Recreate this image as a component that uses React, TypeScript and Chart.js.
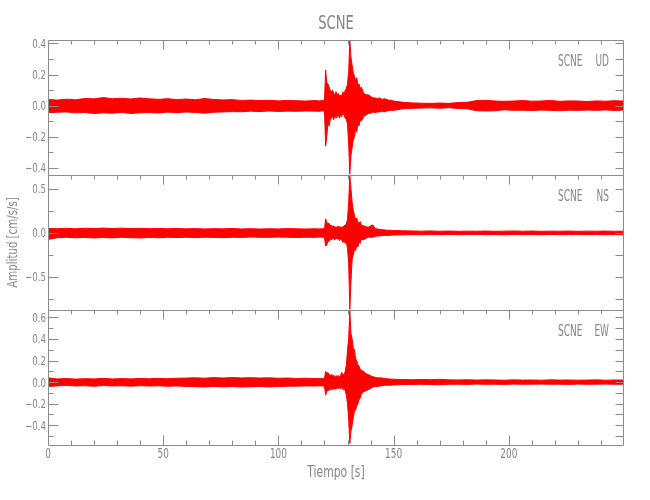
import React, { useEffect, useRef } from "react";
import { Chart, registerables } from "chart.js";

Chart.register(...registerables);

// Time samples [s] (shared by the three components)
const times = [
  0, 4, 8, 12, 16, 20, 24, 28, 32, 36, 40, 44, 48, 52, 56, 60, 64, 68, 72, 76, 80, 84, 88, 92, 96, 100, 104, 108, 112, 116,
  118, 119,
  120, 120.5, 121, 121.5, 122, 122.5, 123, 123.5, 124, 124.5, 125, 125.5, 126, 126.5, 127, 127.5, 128, 128.5, 129, 129.5, 130, 130.5, 131, 131.5, 132, 132.5, 133, 133.5, 134, 134.5, 135, 135.5, 136,
  137, 138, 139, 140, 141, 142, 143, 144, 145, 146, 147, 148, 149, 150,
  154, 158, 162, 166, 170, 174, 178, 182, 186, 190, 194, 198, 202, 206, 210, 214, 218, 222, 226, 230, 234, 238, 242, 246, 250,
];

// UD component: upper / lower envelope [cm/s/s]
const udHi = [
  0.040, 0.036, 0.042, 0.038, 0.046, 0.044, 0.052, 0.045, 0.048, 0.043, 0.050, 0.044, 0.041, 0.045, 0.039, 0.043, 0.038, 0.046, 0.040, 0.037, 0.039, 0.034, 0.036, 0.033, 0.035, 0.031, 0.034, 0.032, 0.030, 0.033,
  0.031, 0.034,
  0.032, 0.23, 0.15, 0.14, 0.12, 0.10, 0.09, 0.10, 0.08, 0.07, 0.09, 0.07, 0.08, 0.06, 0.07, 0.06, 0.09, 0.07, 0.10, 0.11, 0.14, 0.22, 0.42, 0.31, 0.26, 0.21, 0.19, 0.16, 0.18, 0.13, 0.14, 0.11, 0.12,
  0.08, 0.07, 0.07, 0.06, 0.05, 0.05, 0.045, 0.05, 0.04, 0.045, 0.04, 0.035, 0.035, 0.03,
  0.022, 0.018, 0.016, 0.015, 0.017, 0.015, 0.020, 0.022, 0.033, 0.035, 0.030, 0.028, 0.030, 0.033, 0.029, 0.030, 0.034, 0.028, 0.031, 0.030, 0.027, 0.031, 0.029, 0.032, 0.030,
];
const udLo = [
  -0.045, -0.042, -0.040, -0.046, -0.044, -0.050, -0.046, -0.048, -0.043, -0.050, -0.046, -0.044, -0.047, -0.041, -0.045, -0.040, -0.044, -0.048, -0.042, -0.040, -0.038, -0.039, -0.035, -0.038, -0.034, -0.037, -0.035, -0.036, -0.034, -0.035,
  -0.036, -0.033,
  -0.035, -0.26, -0.20, -0.11, -0.13, -0.09, -0.08, -0.07, -0.09, -0.06, -0.08, -0.07, -0.06, -0.08, -0.06, -0.07, -0.05, -0.06, -0.08, -0.09, -0.12, -0.25, -0.44, -0.32, -0.27, -0.22, -0.20, -0.15, -0.17, -0.12, -0.13, -0.09, -0.10,
  -0.07, -0.06, -0.05, -0.05, -0.04, -0.045, -0.04, -0.04, -0.035, -0.04, -0.035, -0.03, -0.03, -0.03,
  -0.020, -0.017, -0.015, -0.014, -0.016, -0.013, -0.018, -0.020, -0.032, -0.034, -0.033, -0.026, -0.030, -0.029, -0.031, -0.028, -0.030, -0.032, -0.029, -0.030, -0.028, -0.030, -0.027, -0.031, -0.028,
];

// NS component
const nsHi = [
  0.050, 0.048, 0.052, 0.047, 0.053, 0.050, 0.055, 0.049, 0.054, 0.050, 0.052, 0.048, 0.051, 0.047, 0.050, 0.046, 0.049, 0.045, 0.048, 0.046, 0.050, 0.045, 0.048, 0.044, 0.047, 0.045, 0.049, 0.046, 0.044, 0.047,
  0.045, 0.046,
  0.048, 0.16, 0.12, 0.10, 0.11, 0.08, 0.09, 0.07, 0.08, 0.06, 0.07, 0.06, 0.08, 0.06, 0.07, 0.06, 0.07, 0.08, 0.09, 0.10, 0.16, 0.35, 0.65, 0.50, 0.35, 0.26, 0.20, 0.15, 0.17, 0.12, 0.11, 0.13, 0.09,
  0.08, 0.07, 0.065, 0.08, 0.09, 0.05, 0.045, 0.04, 0.035, 0.035, 0.03, 0.03, 0.028, 0.027,
  0.024, 0.022, 0.020, 0.022, 0.019, 0.021, 0.018, 0.020, 0.019, 0.021, 0.018, 0.020, 0.022, 0.019, 0.021, 0.018, 0.020, 0.019, 0.021, 0.018, 0.020, 0.019, 0.021, 0.018, 0.020,
];
const nsLo = [
  -0.075, -0.055, -0.050, -0.056, -0.052, -0.058, -0.053, -0.057, -0.050, -0.055, -0.058, -0.052, -0.056, -0.050, -0.053, -0.050, -0.054, -0.049, -0.052, -0.055, -0.050, -0.052, -0.047, -0.050, -0.051, -0.048, -0.050, -0.053, -0.049, -0.051,
  -0.048, -0.050,
  -0.052, -0.15, -0.14, -0.09, -0.10, -0.07, -0.08, -0.06, -0.07, -0.08, -0.06, -0.07, -0.06, -0.09, -0.07, -0.08, -0.11, -0.09, -0.12, -0.10, -0.18, -0.35, -0.87, -0.55, -0.30, -0.25, -0.19, -0.20, -0.14, -0.16, -0.10, -0.12, -0.07,
  -0.08, -0.06, -0.05, -0.05, -0.05, -0.04, -0.035, -0.035, -0.03, -0.03, -0.03, -0.028, -0.027, -0.025,
  -0.022, -0.020, -0.022, -0.019, -0.020, -0.018, -0.020, -0.019, -0.017, -0.020, -0.019, -0.021, -0.018, -0.020, -0.019, -0.021, -0.018, -0.020, -0.019, -0.017, -0.020, -0.018, -0.021, -0.019, -0.020,
];

// EW component
const ewHi = [
  0.040, 0.030, 0.033, 0.028, 0.032, 0.030, 0.035, 0.029, 0.033, 0.030, 0.034, 0.031, 0.035, 0.032, 0.036, 0.038, 0.040, 0.037, 0.042, 0.038, 0.043, 0.039, 0.041, 0.038, 0.040, 0.036, 0.038, 0.034, 0.036, 0.033,
  0.035, 0.032,
  0.034, 0.10, 0.08, 0.09, 0.07, 0.065, 0.07, 0.06, 0.065, 0.05, 0.06, 0.055, 0.06, 0.05, 0.065, 0.09, 0.07, 0.07, 0.10, 0.16, 0.30, 0.40, 0.66, 0.45, 0.40, 0.32, 0.30, 0.22, 0.20, 0.16, 0.15, 0.12, 0.11,
  0.10, 0.08, 0.07, 0.06, 0.05, 0.045, 0.04, 0.04, 0.038, 0.035, 0.032, 0.03, 0.028, 0.027,
  0.024, 0.022, 0.025, 0.023, 0.026, 0.021, 0.020, 0.022, 0.019, 0.021, 0.020, 0.018, 0.021, 0.019, 0.020, 0.018, 0.021, 0.019, 0.020, 0.018, 0.019, 0.021, 0.018, 0.020, 0.019,
];
const ewLo = [
  -0.040, -0.035, -0.030, -0.036, -0.033, -0.038, -0.032, -0.035, -0.034, -0.037, -0.033, -0.036, -0.034, -0.038, -0.035, -0.040, -0.042, -0.045, -0.040, -0.044, -0.041, -0.045, -0.043, -0.040, -0.044, -0.041, -0.038, -0.037, -0.035, -0.036,
  -0.034, -0.036,
  -0.035, -0.12, -0.09, -0.07, -0.08, -0.06, -0.075, -0.055, -0.07, -0.06, -0.065, -0.05, -0.06, -0.055, -0.06, -0.05, -0.07, -0.06, -0.08, -0.12, -0.20, -0.35, -0.57, -0.45, -0.40, -0.33, -0.27, -0.26, -0.22, -0.20, -0.16, -0.15, -0.11,
  -0.09, -0.08, -0.07, -0.06, -0.045, -0.04, -0.04, -0.035, -0.035, -0.03, -0.03, -0.028, -0.028, -0.026,
  -0.022, -0.021, -0.020, -0.022, -0.024, -0.020, -0.019, -0.021, -0.018, -0.020, -0.019, -0.021, -0.018, -0.020, -0.019, -0.018, -0.020, -0.019, -0.021, -0.018, -0.020, -0.019, -0.018, -0.020, -0.019,
];

// Axis ranges and ticks
const xRange = [0, 250];
const xMajor = 50;
const xMinor = 10;
const station = "SCNE";
const components = ["UD", "NS", "EW"];
const yRanges = [
  [-0.4457, 0.4225],
  [-0.878, 0.659],
  [-0.583, 0.669],
];
const yMajor = [0.2, 0.5, 0.2];
const yMinor = [0.1, 0.25, 0.1];
const xTitle = "Tiempo [s]";
const yTitle = "Amplitud [cm/s/s]";

const RED = "#ff0000";
const AXIS = "#8c8c8c";
const TEXT = "#858585";
const FAMILY = "'DejaVu Sans', 'Liberation Sans', sans-serif";

const ids = ["yUD", "yNS", "yEW"];
const highs = [udHi, nsHi, ewHi];
const lows = [udLo, nsLo, ewLo];

function pts(vals: number[]) {
  return times.map((t, i) => ({ x: t, y: vals[i] }));
}

function drawText(
  ctx: CanvasRenderingContext2D,
  s: string,
  x: number,
  y: number,
  size: number,
  align: CanvasTextAlign,
  sx: number,
  rot = 0
) {
  ctx.save();
  ctx.translate(x, y);
  if (rot) ctx.rotate(rot);
  ctx.scale(sx, 1);
  ctx.font = `normal ${size}px ${FAMILY}`;
  ctx.textAlign = align;
  ctx.textBaseline = "alphabetic";
  ctx.fillStyle = TEXT;
  ctx.fillText(s, 0, 0);
  ctx.restore();
}

const fmt = (v: number) => {
  const s = Math.abs(v).toFixed(1);
  return v < -1e-9 ? "\u2212" + s : s;
};

const decor = {
  id: "decor",
  afterDraw(chart: any) {
    const ctx: CanvasRenderingContext2D = chart.ctx;
    const ca = chart.chartArea;
    const xs = chart.scales.x;
    const L = Math.round(ca.left) + 0.5;
    const R = Math.round(ca.right) - 0.5;
    ctx.save();
    ctx.strokeStyle = AXIS;
    ctx.lineWidth = 1;
    ids.forEach((id, k) => {
      const ys = chart.scales[id];
      const T = Math.round(ys.top) + 0.5;
      const B = Math.round(ys.bottom) + 0.5;
      ctx.beginPath();
      ctx.rect(L, T, R - L, B - T);
      // y ticks (left: major long / minor short, right: all)
      const mi = yMinor[k];
      const i0 = Math.ceil(ys.min / mi - 1e-6);
      const i1 = Math.floor(ys.max / mi + 1e-6);
      for (let i = i0; i <= i1; i++) {
        const v = i * mi;
        const y = Math.round(ys.getPixelForValue(v)) + 0.5;
        const r = v / yMajor[k];
        const major = Math.abs(r - Math.round(r)) < 1e-6;
        ctx.moveTo(L, y);
        ctx.lineTo(L + (major ? 10 : 5), y);
        ctx.moveTo(R, y);
        ctx.lineTo(R - 8, y);
      }
      // x ticks on top edge of each panel (and bottom edge of the last)
      const j1 = Math.floor(xs.max / xMinor + 1e-6);
      for (let j = 1; j < j1; j++) {
        const v = j * xMinor;
        const x = Math.round(xs.getPixelForValue(v)) + 0.5;
        const major = v % xMajor === 0;
        ctx.moveTo(x, T);
        ctx.lineTo(x, T + (major ? 9 : 4));
        if (k === ids.length - 1) {
          ctx.moveTo(x, B);
          ctx.lineTo(x, B - (major ? 10 : 5));
        }
      }
      ctx.stroke();
      // y tick labels
      ys.ticks.forEach((t: any) => {
        const y = ys.getPixelForValue(t.value);
        drawText(ctx, fmt(t.value), L - 2.5, y + 4.4, 12, "right", 0.72);
      });
      // panel label
      drawText(ctx, station, R - 41, T + 25.5, 15, "right", 0.6);
      drawText(ctx, components[k], R - 14.5, T + 25.5, 15, "right", 0.6);
    });
    // x tick labels (the right bound is not labelled)
    const bottom = chart.scales[ids[ids.length - 1]].bottom;
    xs.ticks.forEach((t: any) => {
      if (t.value >= xs.max) return;
      const x = xs.getPixelForValue(t.value);
      drawText(ctx, String(t.value), x, bottom + 13, 13.5, "center", 0.66);
    });
    const cx = (ca.left + ca.right) / 2;
    drawText(ctx, xTitle, cx, bottom + 31.5, 15, "center", 0.72);
    drawText(ctx, station, cx, ca.top - 11, 19, "center", 0.69);
    drawText(ctx, yTitle, 17, (ca.top + ca.bottom) / 2, 14, "center", 0.73, -Math.PI / 2);
    ctx.restore();
  },
};

export default function App() {
  const ref = useRef<HTMLCanvasElement>(null);
  useEffect(() => {
    if (!ref.current) return;
    const datasets: any[] = [];
    ids.forEach((id, k) => {
      datasets.push({
        data: pts(highs[k]),
        yAxisID: id,
        borderColor: RED,
        backgroundColor: RED,
        borderWidth: 1,
        pointRadius: 0,
        tension: 0,
        fill: "+1",
      });
      datasets.push({
        data: pts(lows[k]),
        yAxisID: id,
        borderColor: RED,
        backgroundColor: RED,
        borderWidth: 1,
        pointRadius: 0,
        tension: 0,
        fill: false,
      });
    });
    const yScale = (k: number) => ({
      type: "linear",
      position: "left",
      stack: "panels",
      stackWeight: 1,
      min: yRanges[k][0],
      max: yRanges[k][1],
      ticks: { display: false, stepSize: yMajor[k], includeBounds: false },
      grid: { display: false, drawTicks: false },
      border: { display: false },
      afterFit: (s: any) => {
        s.width = 48;
      },
    });
    const chart = new Chart(ref.current, {
      type: "line",
      data: { datasets },
      plugins: [decor],
      options: {
        responsive: false,
        animation: false,
        devicePixelRatio: 1,
        events: [],
        layout: { padding: { top: 40, right: 26, left: 0, bottom: 0 } },
        plugins: {
          legend: { display: false },
          tooltip: { enabled: false },
          title: { display: false },
        },
        scales: {
          x: {
            type: "linear",
            min: xRange[0],
            max: xRange[1],
            ticks: { display: false, stepSize: xMajor, includeBounds: false },
            grid: { display: false, drawTicks: false },
            border: { display: false },
            afterFit: (s: any) => {
              s.height = 55;
            },
          },
          // stacked panels: listed bottom-first so UD ends on top
          yEW: yScale(2),
          yNS: yScale(1),
          yUD: yScale(0),
        } as any,
      },
    } as any);
    return () => chart.destroy();
  }, []);
  return (
    <div style={{ position: "absolute", left: 0, top: 0, width: 650, height: 500, background: "#fff" }}>
      <canvas ref={ref} width={650} height={500} style={{ display: "block" }} />
    </div>
  );
}
